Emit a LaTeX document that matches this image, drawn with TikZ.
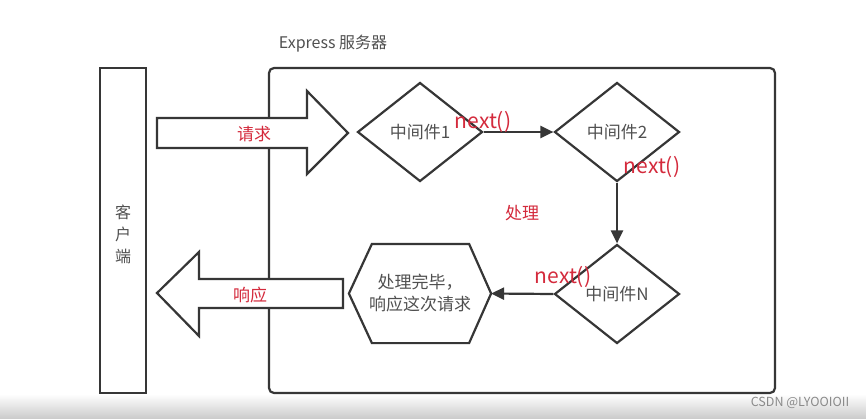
\documentclass[tikz,border=0pt]{standalone}
\usepackage{fontspec}
\setmainfont{Noto Sans CJK SC}
\usetikzlibrary{shapes.geometric,arrows.meta}
\definecolor{ln}{HTML}{363636}
\definecolor{tx}{HTML}{505050}
\definecolor{rd}{HTML}{D42A3C}
\definecolor{wm}{HTML}{8A8A8A}
\begin{document}
\begin{tikzpicture}[x=1pt,y=-1pt,line width=2.2pt,
  box/.style={draw=ln,inner sep=0pt},
  dia/.style={diamond,draw=ln,fill=white,inner sep=0pt,minimum width=125pt,minimum height=99pt,text=tx,font=\fontsize{17}{20}\selectfont},
  blockarrow/.style={draw=ln,fill=white,line join=miter},
  conn/.style={draw=ln,-{Triangle[length=13pt,width=12pt]}},
  redlbl/.style={text=rd,font=\fontsize{17}{20}\selectfont,inner sep=0pt},
  nextlbl/.style={text=rd,font=\fontsize{21}{22}\selectfont,inner sep=0pt},
  txt/.style={text=tx,font=\fontsize{17}{22}\selectfont,inner sep=0pt,align=center}]
\useasboundingbox (0,0) rectangle (866,418);
\fill[white] (0,0) rectangle (866,418);
\shade[top color=white,bottom color=black!20,draw=none] (0,394) rectangle (866,418);
\node[text=wm,font=\fontsize{12.5}{14}\selectfont,inner sep=0pt] (wmk) at (800,403) {CSDN @LYOOIOII};

% client and server
\node[box,minimum width=46pt,minimum height=325pt] (client) at (123,230.5) {};
\node[txt,font=\fontsize{16}{22}\selectfont] (clienttxt) at (123,234) {客\\户\\端};
\node[box,rounded corners=5pt,minimum width=506pt,minimum height=325pt] (server) at (522,230.5) {};
\node[txt,font=\fontsize{16}{18}\selectfont] (title) at (333,44) {Express 服务器};

% request block arrow
\draw[blockarrow] (157,118) -- (307,118) -- (307,91) -- (348,133) -- (307,174) -- (307,148) -- (157,148) -- cycle;
\node[redlbl] (req) at (254,134) {请求};

% response block arrow
\draw[blockarrow] (343,279) -- (199,279) -- (199,252) -- (157,293) -- (199,336) -- (199,308) -- (343,308) -- cycle;
\node[redlbl] (resp) at (250,295) {响应};

% middleware
\node[dia] (m1) at (420,132) {中间件1};
\node[dia] (m2) at (617,132) {中间件2};
\node[dia] (mN) at (617,294) {中间件N};

% hexagon
\node[txt,minimum width=140pt,minimum height=97pt] (hex) at (420,293.5) {处理完毕，\\响应这次请求};
\draw[draw=ln,line join=miter] (hex.west) -- ([xshift=23pt]hex.north west) -- ([xshift=-22pt]hex.north east) -- (hex.east) -- ([xshift=-22pt]hex.south east) -- ([xshift=23pt]hex.south west) -- cycle;

% connectors
\draw[conn] (m1.east) -- (m2.west);
\draw[conn] (m2.south) -- (mN.north);
\draw[conn] (mN.west) -- (hex.east);

% labels
\node[nextlbl] (n1) at (483,122) {next()};
\node[nextlbl] (n2) at (652,167) {next()};
\node[nextlbl] (n3) at (563,277) {next()};
\node[redlbl] (proc) at (522,213) {处理};
\end{tikzpicture}
\end{document}
